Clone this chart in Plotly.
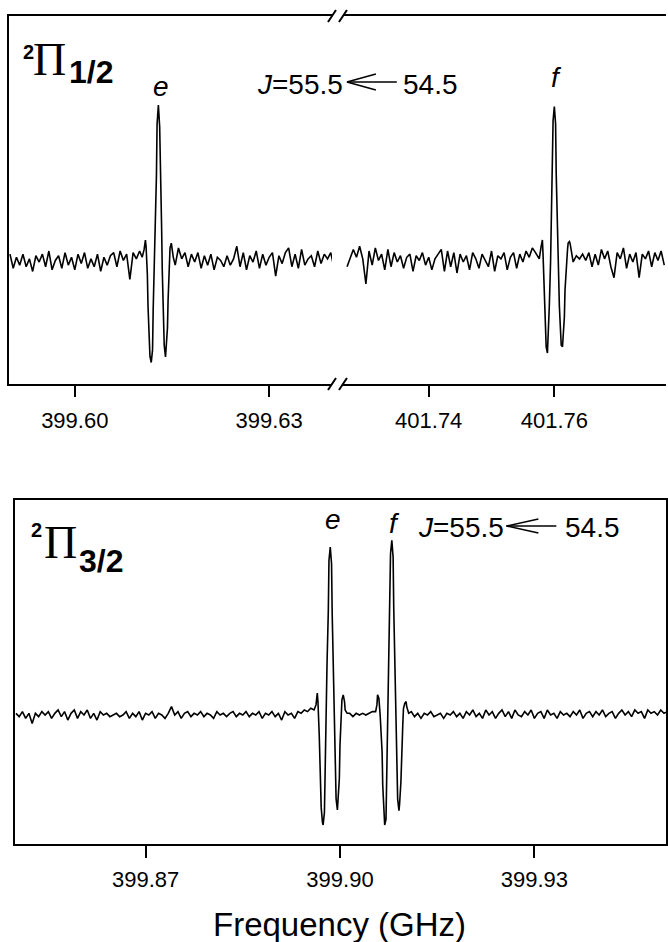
import plotly.graph_objects as go

W, H = 668, 942

# ---------------- data: top panel (2Pi 1/2), left segment ----------------
x_tl_pre = [399.5900, 399.5905, 399.5910, 399.5915, 399.5920, 399.5925, 399.5930, 399.5935, 399.5940, 399.5945,
            399.5950, 399.5955, 399.5960, 399.5965, 399.5970, 399.5975, 399.5980, 399.5985, 399.5990, 399.5995,
            399.6000, 399.6005, 399.6010, 399.6015, 399.6020, 399.6025, 399.6030, 399.6035, 399.6040, 399.6045,
            399.6050, 399.6055, 399.6060, 399.6065, 399.6070, 399.6075, 399.6080, 399.6085, 399.6090, 399.6095,
            399.6100]
y_tl_pre = [0.05, -0.04, 0.03, -0.02, 0.05, -0.03, 0.02, -0.06, 0.04, 0.00,
            0.05, -0.03, 0.07, -0.05, 0.01, 0.04, -0.04, 0.06, -0.02, 0.03,
            -0.05, 0.05, -0.01, 0.06, -0.04, 0.02, -0.03, 0.05, -0.06, 0.03,
            -0.02, 0.04, 0.06, -0.03, 0.07, 0.01, 0.05, -0.11, 0.06, 0.02,
            0.07]
x_e12 = [399.6104, 399.6107, 399.6109, 399.6110, 399.6112, 399.6113, 399.6115, 399.6116, 399.6118, 399.6120,
         399.6121, 399.6123, 399.6124, 399.6126, 399.6127, 399.6129, 399.6131, 399.6132, 399.6134, 399.6135,
         399.6137, 399.6138, 399.6140, 399.6141, 399.6143, 399.6144, 399.6146, 399.6147, 399.6149, 399.6150,
         399.6152, 399.6155]
y_e12 = [0.03, 0.08, 0.14, 0.10, -0.08, -0.28, -0.48, -0.60, -0.64, -0.56,
         -0.30, 0.00, 0.25, 0.55, 0.88, 1.00, 0.86, 0.52, 0.22, -0.05,
         -0.32, -0.53, -0.605, -0.56, -0.42, -0.24, -0.04, 0.09, 0.12, 0.08,
         0.03, -0.02]
x_tl_post = [399.6160, 399.6165, 399.6170, 399.6175, 399.6180, 399.6185, 399.6190, 399.6195, 399.6200, 399.6205,
             399.6210, 399.6215, 399.6220, 399.6225, 399.6230, 399.6235, 399.6240, 399.6245, 399.6250, 399.6255,
             399.6260, 399.6265, 399.6270, 399.6275, 399.6280, 399.6285, 399.6290, 399.6295, 399.6300, 399.6305,
             399.6310, 399.6315, 399.6320, 399.6325, 399.6330, 399.6335, 399.6340, 399.6345, 399.6350, 399.6355,
             399.6360, 399.6365, 399.6370, 399.6375, 399.6380, 399.6385, 399.6390, 399.6395, 399.6400]
y_tl_post = [0.09, 0.02, 0.06, -0.03, 0.05, 0.00, 0.06, -0.04, 0.04, -0.02,
             0.05, -0.05, 0.03, 0.01, -0.03, 0.04, -0.02, 0.02, 0.10, -0.03,
             0.06, -0.05, 0.04, 0.00, 0.07, -0.04, 0.05, -0.02, 0.03, 0.06,
             -0.09, 0.04, -0.01, 0.06, 0.09, -0.03, 0.05, -0.04, 0.08, -0.02,
             0.02, 0.04, -0.03, 0.07, -0.01, 0.05, 0.02, 0.06, -0.04]

# ---------------- data: top panel, right segment ----------------
x_tr_pre = [401.7270, 401.7275, 401.7280, 401.7285, 401.7290, 401.7295, 401.7300, 401.7305, 401.7310, 401.7315,
            401.7320, 401.7325, 401.7330, 401.7335, 401.7340, 401.7345, 401.7350, 401.7355, 401.7360, 401.7365,
            401.7370, 401.7375, 401.7380, 401.7385, 401.7390, 401.7395, 401.7400, 401.7405, 401.7410, 401.7415,
            401.7420, 401.7425, 401.7430, 401.7435, 401.7440, 401.7445, 401.7450, 401.7455, 401.7460, 401.7465,
            401.7470, 401.7475, 401.7480, 401.7485, 401.7490, 401.7495, 401.7500, 401.7505, 401.7510, 401.7515,
            401.7520, 401.7525, 401.7530, 401.7535, 401.7540, 401.7545, 401.7550, 401.7555, 401.7560, 401.7565,
            401.7570]
y_tr_pre = [-0.03, 0.02, 0.08, 0.03, 0.10, 0.02, -0.14, 0.07, -0.02, 0.09,
            0.01, 0.05, -0.05, 0.08, -0.03, 0.06, 0.00, 0.04, -0.04, 0.03,
            0.05, -0.06, 0.04, 0.01, 0.06, -0.02, 0.03, -0.05, 0.02, 0.05,
            0.08, -0.06, 0.07, -0.03, 0.06, -0.07, 0.05, 0.00, 0.04, -0.05,
            0.06, 0.02, -0.04, 0.05, 0.01, -0.03, 0.07, -0.06, 0.04, 0.02,
            0.06, -0.05, 0.03, 0.06, -0.04, 0.05, 0.00, 0.07, 0.03, 0.09,
            0.06]
x_f12 = [401.7576, 401.7579, 401.7581, 401.7582, 401.7584, 401.7586, 401.7587, 401.7589, 401.7590, 401.7592,
         401.7594, 401.7595, 401.7597, 401.7598, 401.7600, 401.7602, 401.7603, 401.7605, 401.7606, 401.7608,
         401.7610, 401.7611, 401.7613, 401.7614, 401.7616, 401.7617, 401.7619, 401.7621, 401.7622, 401.7624,
         401.7625, 401.7627, 401.7630]
y_f12 = [0.02, 0.10, 0.14, 0.05, -0.15, -0.38, -0.54, -0.58, -0.50, -0.28,
         0.00, 0.28, 0.58, 0.90, 0.99, 0.88, 0.56, 0.25, -0.02, -0.28,
         -0.45, -0.53, -0.54, -0.48, -0.35, -0.18, -0.02, 0.08, 0.12, 0.13,
         0.12, 0.06, 0.00]
x_tr_post = [401.7635, 401.7640, 401.7645, 401.7650, 401.7655, 401.7660, 401.7665, 401.7670, 401.7675, 401.7680,
             401.7685, 401.7690, 401.7695, 401.7700, 401.7705, 401.7710, 401.7715, 401.7720, 401.7725, 401.7730,
             401.7735, 401.7740, 401.7745, 401.7750, 401.7755, 401.7760, 401.7765, 401.7770, 401.7775]
y_tr_post = [0.04, 0.02, 0.05, 0.01, 0.06, -0.03, 0.05, -0.02, 0.08, 0.02,
             0.07, -0.03, -0.10, 0.06, 0.02, 0.09, -0.04, 0.05, 0.00, 0.06,
             -0.10, 0.05, 0.02, 0.07, -0.03, 0.06, 0.01, 0.07, -0.02]

# ---------------- data: bottom panel (2Pi 3/2) ----------------
x_b_pre = [399.8500, 399.8505, 399.8510, 399.8515, 399.8520, 399.8525, 399.8530, 399.8535, 399.8540, 399.8545,
           399.8550, 399.8555, 399.8560, 399.8565, 399.8570, 399.8575, 399.8580, 399.8585, 399.8590, 399.8595,
           399.8600, 399.8605, 399.8610, 399.8615, 399.8620, 399.8625, 399.8630, 399.8635, 399.8640, 399.8645,
           399.8650, 399.8655, 399.8660, 399.8665, 399.8670, 399.8675, 399.8680, 399.8685, 399.8690, 399.8695,
           399.8700, 399.8705, 399.8710, 399.8715, 399.8720, 399.8725, 399.8730, 399.8735, 399.8740, 399.8745,
           399.8750, 399.8755, 399.8760, 399.8765, 399.8770, 399.8775, 399.8780, 399.8785, 399.8790, 399.8795,
           399.8800, 399.8805, 399.8810, 399.8815, 399.8820, 399.8825, 399.8830, 399.8835, 399.8840, 399.8845,
           399.8850, 399.8855, 399.8860, 399.8865, 399.8870, 399.8875, 399.8880, 399.8885, 399.8890, 399.8895,
           399.8900, 399.8905, 399.8910, 399.8915, 399.8920, 399.8925, 399.8930, 399.8935, 399.8940, 399.8945,
           399.8950, 399.8955]
y_b_pre = [0.01, -0.01, 0.02, -0.02, 0.01, -0.05, 0.01, -0.01, 0.02, 0.00,
           0.02, -0.02, 0.01, 0.03, -0.01, 0.02, -0.03, 0.01, 0.03, -0.02,
           0.02, 0.00, 0.03, -0.02, 0.01, -0.03, 0.02, 0.00, 0.01, -0.01,
           0.00, 0.01, -0.01, 0.00, 0.02, -0.02, 0.01, -0.01, 0.02, -0.03,
           0.01, 0.00, 0.02, -0.02, 0.01, 0.00, -0.02, 0.01, 0.05, 0.00,
           0.02, -0.02, 0.01, 0.02, -0.01, 0.01, 0.00, 0.02, -0.01, 0.01,
           0.00, -0.02, 0.02, 0.00, 0.01, -0.01, 0.01, 0.02, -0.01, 0.01,
           0.00, 0.02, -0.01, 0.01, 0.00, 0.02, -0.02, 0.01, 0.00, 0.02,
           -0.01, 0.01, -0.03, 0.02, 0.00, 0.01, -0.02, 0.02, 0.01, 0.03,
           0.02, 0.04]
x_e32 = [399.8960, 399.8963, 399.8965, 399.8966, 399.8968, 399.8970, 399.8971, 399.8973, 399.8974, 399.8976,
         399.8977, 399.8979, 399.8980, 399.8982, 399.8983, 399.8985, 399.8987, 399.8988, 399.8990, 399.8991,
         399.8993, 399.8994, 399.8996, 399.8997, 399.8999, 399.9000, 399.9002, 399.9003, 399.9005, 399.9007,
         399.9008, 399.9011]
y_e32 = [0.03, 0.06, 0.13, 0.08, -0.12, -0.35, -0.55, -0.64, -0.655, -0.58,
         -0.32, 0.00, 0.30, 0.62, 0.92, 1.00, 0.90, 0.60, 0.28, -0.02,
         -0.30, -0.50, -0.565, -0.52, -0.38, -0.18, 0.00, 0.09, 0.12, 0.08,
         0.03, 0.01]
x_b_mid = [399.9015, 399.9020, 399.9025, 399.9030, 399.9035, 399.9040, 399.9045, 399.9050]
y_b_mid = [0.01, -0.01, 0.01, 0.00, 0.01, 0.00, 0.01, 0.02]
x_f32 = [399.9055, 399.9057, 399.9058, 399.9060, 399.9062, 399.9063, 399.9065, 399.9066, 399.9068, 399.9069,
         399.9071, 399.9072, 399.9074, 399.9075, 399.9077, 399.9078, 399.9080, 399.9082, 399.9083, 399.9085,
         399.9086, 399.9088, 399.9089, 399.9091, 399.9092, 399.9094, 399.9095, 399.9097, 399.9098, 399.9100,
         399.9102, 399.9103, 399.9106]
y_f32 = [0.02, 0.06, 0.12, 0.10, 0.00, -0.08, -0.22, -0.42, -0.60, -0.655,
         -0.62, -0.38, -0.02, 0.32, 0.66, 0.96, 1.04, 0.94, 0.63, 0.30,
         -0.02, -0.30, -0.50, -0.57, -0.53, -0.40, -0.22, -0.05, 0.04, 0.07,
         0.08, 0.05, 0.01]
x_b_post = [399.9110, 399.9115, 399.9120, 399.9125, 399.9130, 399.9135, 399.9140, 399.9145, 399.9150, 399.9155,
            399.9160, 399.9165, 399.9170, 399.9175, 399.9180, 399.9185, 399.9190, 399.9195, 399.9200, 399.9205,
            399.9210, 399.9215, 399.9220, 399.9225, 399.9230, 399.9235, 399.9240, 399.9245, 399.9250, 399.9255,
            399.9260, 399.9265, 399.9270, 399.9275, 399.9280, 399.9285, 399.9290, 399.9295, 399.9300, 399.9305,
            399.9310, 399.9315, 399.9320, 399.9325, 399.9330, 399.9335, 399.9340, 399.9345, 399.9350, 399.9355,
            399.9360, 399.9365, 399.9370, 399.9375, 399.9380, 399.9385, 399.9390, 399.9395, 399.9400, 399.9405,
            399.9410, 399.9415, 399.9420, 399.9425, 399.9430, 399.9435, 399.9440, 399.9445, 399.9450, 399.9455,
            399.9460, 399.9465, 399.9470, 399.9475, 399.9480, 399.9485, 399.9490, 399.9495, 399.9500, 399.9505]
y_b_post = [0.02, -0.01, 0.01, -0.02, 0.01, 0.00, 0.02, -0.01, 0.00, 0.01,
            -0.02, 0.01, 0.00, 0.02, -0.01, 0.01, -0.02, 0.02, 0.00, 0.03,
            -0.01, 0.01, -0.02, 0.03, 0.00, 0.02, -0.02, 0.01, 0.03, -0.01,
            0.02, -0.02, 0.03, 0.00, -0.01, 0.02, 0.00, 0.03, -0.02, 0.01,
            0.02, -0.02, 0.03, 0.00, 0.01, -0.02, 0.02, 0.00, 0.01, -0.01,
            0.02, 0.00, 0.03, -0.02, 0.01, 0.02, -0.01, 0.02, 0.00, 0.03,
            -0.01, 0.01, 0.02, -0.02, 0.01, 0.03, 0.00, 0.02, -0.01, 0.03,
            0.01, 0.02, -0.02, 0.03, 0.01, 0.02, 0.00, 0.03, 0.01, 0.02]

# tick labels
top_left_ticks = [399.60, 399.63]
top_right_ticks = [401.74, 401.76]
bottom_ticks = [399.87, 399.90, 399.93]

for a, b in [(x_tl_pre, y_tl_pre), (x_e12, y_e12), (x_tl_post, y_tl_post), (x_tr_pre, y_tr_pre),
             (x_f12, y_f12), (x_tr_post, y_tr_post), (x_b_pre, y_b_pre), (x_e32, y_e32),
             (x_b_mid, y_b_mid), (x_f32, y_f32), (x_b_post, y_b_post)]:
    assert len(a) == len(b), (len(a), len(b))

# ---------------- figure ----------------
def fx(p):
    return p / W


def fy(p):
    return 1 - p / H


FONT = "Liberation Sans"
line = dict(color="black", width=1.6)

fig = go.Figure()
fig.add_trace(go.Scatter(x=x_tl_pre + x_e12 + x_tl_post, y=y_tl_pre + y_e12 + y_tl_post,
                         mode="lines", line=line, xaxis="x", yaxis="y", showlegend=False))
fig.add_trace(go.Scatter(x=x_tr_pre + x_f12 + x_tr_post, y=y_tr_pre + y_f12 + y_tr_post,
                         mode="lines", line=line, xaxis="x2", yaxis="y", showlegend=False))
fig.add_trace(go.Scatter(x=x_b_pre + x_e32 + x_b_mid + x_f32 + x_b_post,
                         y=y_b_pre + y_e32 + y_b_mid + y_f32 + y_b_post,
                         mode="lines", line=line, xaxis="x3", yaxis="y2", showlegend=False))

xcommon = dict(showline=True, linecolor="black", linewidth=2, mirror=True, ticks="outside",
               ticklen=11, tickwidth=1.5, tickcolor="black", showgrid=False, zeroline=False,
               tickfont=dict(family=FONT, size=22, color="black"), ticklabelstandoff=5)
ycommon = dict(showline=True, linecolor="black", linewidth=2, showgrid=False, zeroline=False,
               showticklabels=False, ticks="")

fig.update_layout(
    width=W, height=H, margin=dict(l=0, r=0, t=0, b=0),
    paper_bgcolor="white", plot_bgcolor="white",
    xaxis=dict(xcommon, domain=[fx(9), fx(333)], range=[399.589846, 399.639692], anchor="y",
               tickvals=top_left_ticks, ticktext=["%.2f" % v for v in top_left_ticks]),
    xaxis2=dict(xcommon, domain=[fx(344), 1.0], range=[401.726349, 401.777778], anchor="y",
                tickvals=top_right_ticks, ticktext=["%.2f" % v for v in top_right_ticks]),
    yaxis=dict(ycommon, domain=[fy(384), fy(16)], range=[-0.777, 1.567], anchor="x"),
    xaxis3=dict(xcommon, domain=[fx(15), 1.0], range=[399.849846, 399.950308], anchor="y2",
                ticklen=12, ticklabelstandoff=3,
                tickvals=bottom_ticks, ticktext=["%.2f" % v for v in bottom_ticks]),
    yaxis2=dict(ycommon, domain=[fy(844), fy(500)], range=[-0.768, 1.28], anchor="x3", mirror=True),
)


def ann(text, x, y, size, family=FONT, xanchor="center"):
    return dict(text=text, x=fx(x), y=fy(y), xref="paper", yref="paper", showarrow=False,
                font=dict(size=size, family=family, color="black"), xanchor=xanchor,
                yanchor="middle", borderpad=0)


annotations = [
    # top panel
    ann("<b>2</b>", 29, 51.5, 20),
    ann("\u03a0", 49.5, 60, 46, family="Liberation Serif"),
    ann("<b>1/2</b>", 91, 71.5, 32),
    ann("<i>e</i>", 161, 86.7, 28),
    ann("<i>f</i>", 558, 78, 28),
    ann("<i>J</i>=55.5", 345, 85, 28, xanchor="right"),
    ann("54.5", 403, 85, 28, xanchor="left"),
    # bottom panel
    ann("<b>2</b>", 37, 530, 20),
    ann("\u03a0", 61, 542.5, 46, family="Liberation Serif"),
    ann("<b>3/2</b>", 101, 561, 32),
    ann("<i>e</i>", 334, 519.7, 28),
    ann("<i>f</i>", 395.5, 523, 28),
    ann("<i>J</i>=55.5", 507, 527.5, 28, xanchor="right"),
    ann("54.5", 566, 527.5, 28, xanchor="left"),
    # axis title
    ann("Frequency (GHz)", 341, 924, 33),
]
fig.update_layout(annotations=annotations)


def seg(x0, y0, x1, y1, w=1.5):
    return dict(type="line", xref="paper", yref="paper", x0=fx(x0), y0=fy(y0), x1=fx(x1), y1=fy(y1),
                line=dict(color="black", width=w))


shapes = []
# axis break marks
for yb in (16, 384):
    shapes.append(seg(329, yb + 6, 337, yb - 6, 2))
    shapes.append(seg(340, yb + 6, 348, yb - 6, 2))
# transition arrows
for (tip, yy, head, tail, hh) in [(348, 82, 377, 398, 8), (508, 526, 540, 558, 7)]:
    shapes.append(seg(tip, yy, tail, yy))
    shapes.append(seg(tip, yy, head, yy - hh))
    shapes.append(seg(tip, yy, head, yy + hh))
fig.update_layout(shapes=shapes)

fig.write_html("out.html", config={"displayModeBar": False},
               post_script="document.body.style.margin='0';document.body.style.overflow='hidden';")
